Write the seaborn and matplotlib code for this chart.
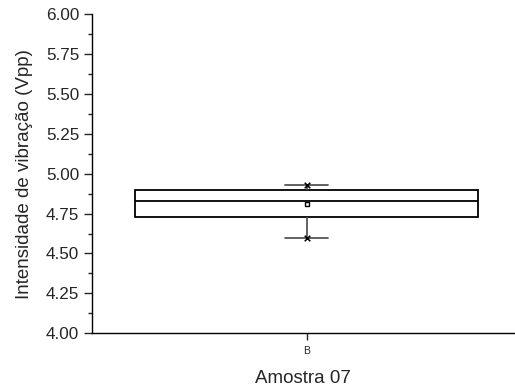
import pandas as pd
import seaborn as sns
import matplotlib.pyplot as plt
from matplotlib.ticker import MultipleLocator, AutoMinorLocator

# five-number summary (min, Q1, median, Q3, max)
sample = ['B', 'B', 'B', 'B', 'B']
values = [4.60, 4.73, 4.83, 4.90, 4.93]
mean_value = 4.81
extremes = [4.60, 4.93]

df = pd.DataFrame({'amostra': sample, 'vpp': values})

sns.set_style('ticks')
plt.rcParams['font.family'] = ['Liberation Sans', 'DejaVu Sans']
plt.rcParams['axes.linewidth'] = 1.0

fig = plt.figure(figsize=(5.15, 3.87), dpi=100)
ax = fig.add_axes([0.178, 0.139, 0.820, 0.824])

sns.boxplot(df, x='amostra', y='vpp', ax=ax, width=0.813, whis=(0, 100),
            color='white', linecolor='black', linewidth=1.3, showfliers=False,
            capwidths=0.102,
            whiskerprops=dict(color='#555555', linewidth=1.3),
            capprops=dict(color='#555555', linewidth=1.3))

sns.scatterplot(x=['B', 'B'], y=extremes, ax=ax, marker='x', color='black',
                s=16, linewidth=1.1, zorder=5)
sns.scatterplot(x=['B'], y=[mean_value], ax=ax, marker='s', facecolor='white',
                edgecolor='black', s=11, linewidth=1.0, zorder=5)

ax.set_ylim(4.0, 6.0)
ax.set_xlim(-0.509, 0.491)
ax.yaxis.set_major_locator(MultipleLocator(0.25))
ax.yaxis.set_minor_locator(AutoMinorLocator(2))
ax.yaxis.set_major_formatter('{x:.2f}')

ax.tick_params(axis='y', which='major', length=6, width=1, labelsize=12.3, pad=3)
ax.tick_params(axis='y', which='minor', length=3, width=1)
ax.tick_params(axis='x', which='major', length=5, width=1, labelsize=7.5, pad=4)

ax.set_ylabel('Intensidade de vibração (Vpp)', fontsize=13.5, labelpad=9)
ax.set_xlabel('Amostra 07', fontsize=13.5, labelpad=10)

sns.despine(ax=ax)
for s in ['left', 'bottom']:
    ax.spines[s].set_color('black')

fig.savefig('out.png', dpi=100)
